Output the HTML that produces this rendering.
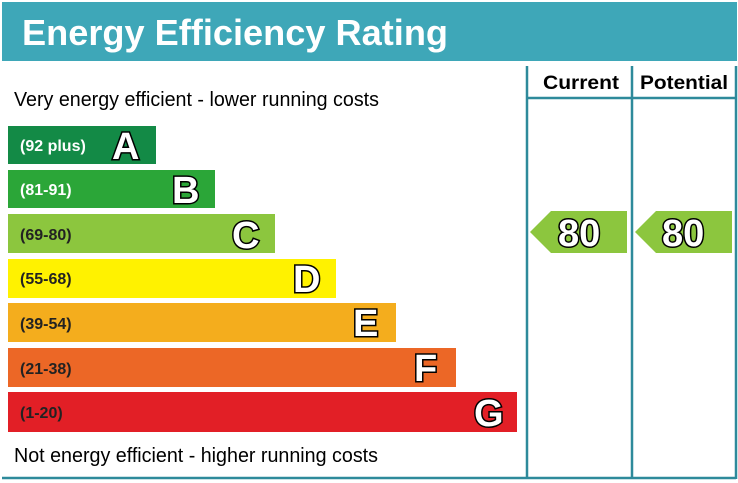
<!DOCTYPE html>
<html><head><style>body{margin:0;background:#fff}svg{display:block}.L{font-size:38px;font-weight:bold;fill:#fff;stroke:#000;stroke-width:3;paint-order:stroke fill}</style></head><body>
<svg width="738" height="483" xmlns="http://www.w3.org/2000/svg" font-family="Liberation Sans, Arial, sans-serif">
<rect x="2" y="2" width="735" height="59" fill="#3ea7b8"/>
<text x="22" y="45" font-size="36" font-weight="bold" fill="#fff" textLength="426" lengthAdjust="spacingAndGlyphs">Energy Efficiency Rating</text>
<g stroke="#2e8a9b" stroke-width="2.5">
<line x1="527" y1="66" x2="527" y2="479"/>
<line x1="632" y1="66" x2="632" y2="479"/>
<line x1="736" y1="66" x2="736" y2="479"/>
<line x1="527" y1="98" x2="736" y2="98"/>
<line x1="2" y1="478" x2="736" y2="478"/>
</g>
<text x="543" y="89" font-size="19" font-weight="bold" textLength="76" lengthAdjust="spacingAndGlyphs">Current</text>
<text x="640" y="89" font-size="19" font-weight="bold" textLength="88" lengthAdjust="spacingAndGlyphs">Potential</text>
<text x="14" y="106" font-size="20" textLength="365" lengthAdjust="spacingAndGlyphs">Very energy efficient - lower running costs</text>
<text x="14" y="462" font-size="20" textLength="364" lengthAdjust="spacingAndGlyphs">Not energy efficient - higher running costs</text>
<g font-weight="bold">
<rect x="8" y="126" width="148" height="38" fill="#138a46"/>
<text x="20" y="151" font-size="16" fill="#fff">(92 plus)</text>
<text x="112" y="159" class="L">A</text>
<rect x="8" y="170" width="207" height="38" fill="#2ba638"/>
<text x="20" y="195" font-size="16" fill="#fff">(81-91)</text>
<text x="172" y="203" class="L">B</text>
<rect x="8" y="214" width="267" height="39" fill="#8cc63e"/>
<text x="20" y="240" font-size="16" fill="#222">(69-80)</text>
<text x="232" y="248" class="L">C</text>
<rect x="8" y="259" width="328" height="39" fill="#fff200"/>
<text x="20" y="284" font-size="16" fill="#222">(55-68)</text>
<text x="293" y="292" class="L">D</text>
<rect x="8" y="303" width="388" height="39" fill="#f4ad1d"/>
<text x="20" y="329" font-size="16" fill="#222">(39-54)</text>
<text x="353" y="336" class="L">E</text>
<rect x="8" y="348" width="448" height="39" fill="#ec6726"/>
<text x="20" y="374" font-size="16" fill="#222">(21-38)</text>
<text x="414" y="381" class="L">F</text>
<rect x="8" y="392" width="509" height="40" fill="#e21f26"/>
<text x="20" y="418" font-size="16" fill="#222">(1-20)</text>
<text x="474" y="426" class="L">G</text>
<polygon points="530,232 551,211 627,211 627,253 551,253" fill="#8cc63e"/>
<text x="558" y="246" class="L" font-size="36">80</text>
<polygon points="635,232 656,211 732,211 732,253 656,253" fill="#8cc63e"/>
<text x="662" y="246" class="L" font-size="36">80</text>
</g>
</svg>
</body></html>
